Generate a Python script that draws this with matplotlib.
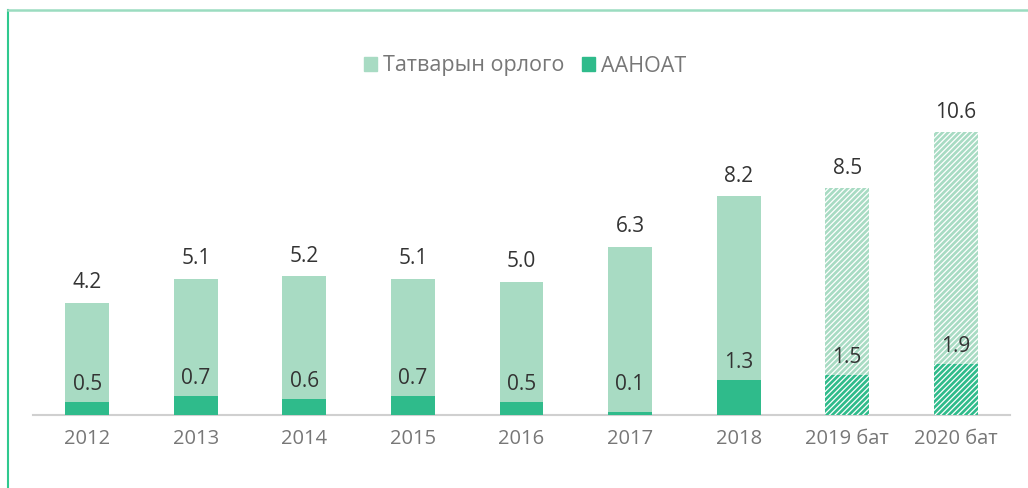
import numpy as np
import matplotlib
matplotlib.use('Agg')
import matplotlib.pyplot as plt
from matplotlib.patches import Patch

years = ['2012', '2013', '2014', '2015', '2016', '2017', '2018', '2019 бат', '2020 бат']
total = [4.2, 5.1, 5.2, 5.1, 5.0, 6.3, 8.2, 8.5, 10.6]
aanoat = [0.5, 0.7, 0.6, 0.7, 0.5, 0.1, 1.3, 1.5, 1.9]
forecast = [False] * 7 + [True, True]

light = '#a8dbc3'
dark = '#2fbb8b'

plt.rcParams['font.family'] = ['Open Sans', 'DejaVu Sans']
plt.rcParams['hatch.linewidth'] = 0.9

fig = plt.figure(figsize=(10.28, 4.88), dpi=100)
ax = fig.add_axes([33 / 1028, 73 / 488, 977 / 1028, 320 / 488])

x = np.arange(len(years))
w = 0.405
for i in x:
    hatch = '//////' if forecast[i] else None
    ax.bar(i, total[i], w, color=light, edgecolor='white' if forecast[i] else light,
           linewidth=0, hatch=hatch, zorder=2)
    ax.bar(i, aanoat[i], w, color=dark, edgecolor='white' if forecast[i] else dark,
           linewidth=0, hatch=hatch, zorder=3)
    ax.annotate(f'{total[i]:.1f}', (i, total[i]), xytext=(0, 7), textcoords='offset points',
                ha='center', va='bottom', fontsize=15, color='#333333')
    ax.annotate(f'{aanoat[i]:.1f}', (i, max(aanoat[i], 0.5)), xytext=(0, 5),
                textcoords='offset points', ha='center', va='bottom', fontsize=15, color='#333333')

ax.set_xlim(-0.5, len(years) - 0.5)
ax.set_ylim(0, 12)
ax.set_xticks(x)
ax.set_xticklabels(years, fontsize=14.5, color='#777777')
ax.tick_params(axis='x', length=0, pad=10)
ax.set_yticks([])
for s in ['top', 'right', 'left']:
    ax.spines[s].set_visible(False)
ax.spines['bottom'].set_color('#d0d0d0')
ax.spines['bottom'].set_linewidth(1.5)

handles = [Patch(color=light, label='Татварын орлого'),
           Patch(color=dark, label='ААНОАТ')]
fig.legend(handles=handles, loc='center', bbox_to_anchor=(525 / 1028, 1 - 66 / 488),
           ncol=2, frameon=False, fontsize=15.5, labelcolor='#777777',
           handlelength=0.6, handleheight=0.6, handletextpad=0.3, columnspacing=0.8)

# frame lines on the left and top edges
fig.add_artist(plt.Line2D([8 / 1028, 8 / 1028], [0, 1 - 9.5 / 488], color='#2fc98f',
                          linewidth=1.5, transform=fig.transFigure))
fig.add_artist(plt.Line2D([8 / 1028, 1], [1 - 9.5 / 488, 1 - 9.5 / 488], color='#9bdcc0',
                          linewidth=1.8, transform=fig.transFigure))

fig.savefig('out.png', dpi=100)
